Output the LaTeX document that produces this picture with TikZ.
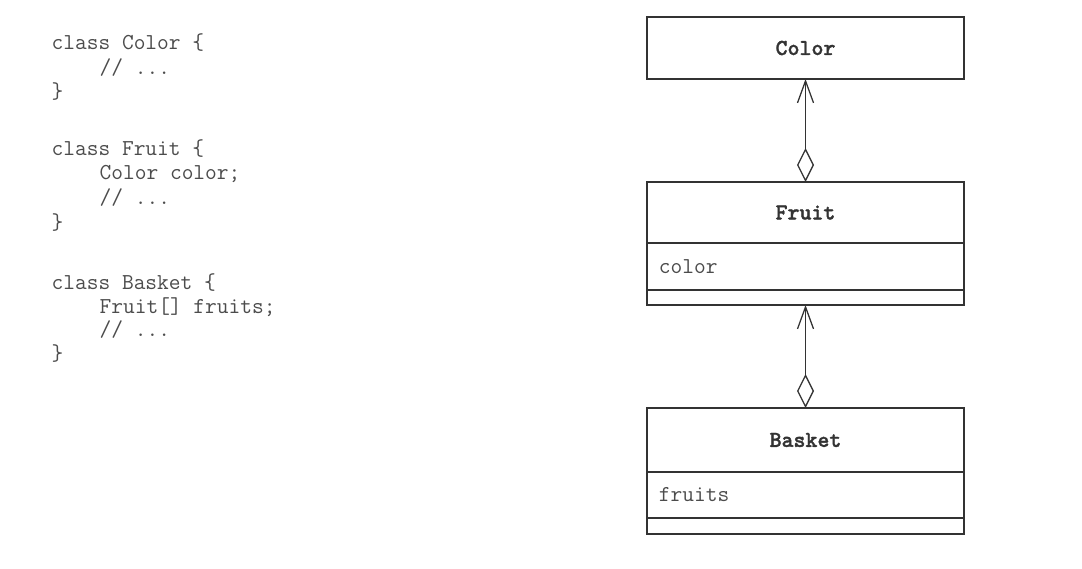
\documentclass[tikz,border=0pt]{standalone}
\usepackage{fontspec}
\newfontfamily\namemono[FakeBold=1.5]{lmmonolt10-bold.otf}
\usetikzlibrary{positioning,arrows.meta}
\definecolor{inkline}{rgb}{0.2,0.2,0.2}
\definecolor{inkcode}{rgb}{0.3,0.3,0.3}

\begin{document}
\begin{tikzpicture}[
	x=0.025cm,
	y=-0.025cm,
	line width=0.9pt,
	font=\ttfamily\fontsize{16.2}{19}\selectfont
]
\tikzset{
    codeline/.style = {anchor=base west, inner sep=0, text=inkcode},
    classname/.style = {draw=inkline, outer sep=0, inner ysep=0, minimum width=7.925cm, align=center, font=\namemono\fontsize{16.2}{19}\selectfont, text=inkline},
    classpart/.style = {draw=inkline, outer sep=0, inner ysep=0, inner xsep=0.3cm, text width=7.325cm, align=left, text=inkcode},
    assoc/.style = {draw=inkline, {Diamond[open,length=0.85cm,width=0.425cm]}-{Straight Barb[length=0.55cm,width=0.4cm]}},
}
    \useasboundingbox (0,0) rectangle (1082,568);

    % code
    \node (c1) [codeline] at (51,49) {class Color \{};
    \node (c2) [codeline] at (99,74) {// ...};
    \node (c3) [codeline] at (51,98) {\}};
    \node (c4) [codeline] at (51,155) {class Fruit \{};
    \node (c5) [codeline] at (99,179) {Color color;};
    \node (c6) [codeline] at (99,204) {// ...};
    \node (c7) [codeline] at (51,229) {\}};
    \node (c8) [codeline] at (51,289) {class Basket \{};
    \node (c9) [codeline] at (99,313) {Fruit[] fruits;};
    \node (c10) [codeline] at (99,336) {// ...};
    \node (c11) [codeline] at (51,360) {\}};

    % classes
    \node (Color) [classname, minimum height=1.55cm] at (805.5,48) {Color};

    \node (FruitName) [classname, minimum height=1.525cm] at (805.5,212.5) {Fruit};
    \node (FruitAttr) [classpart, minimum height=1.175cm, below=0pt of FruitName] {color};
    \node (FruitOps) [classpart, minimum height=0.375cm, below=0pt of FruitAttr] {};

    \node (BasketName) [classname, minimum height=1.6cm] at (805.5,440) {Basket};
    \node (BasketAttr) [classpart, minimum height=1.15cm, below=0pt of BasketName] {fruits};
    \node (BasketOps) [classpart, minimum height=0.4cm, below=0pt of BasketAttr] {};

    \draw[assoc] (FruitName.north) -- (Color.south);
    \draw[assoc] (BasketName.north) -- (FruitOps.south);
\end{tikzpicture}
\end{document}
